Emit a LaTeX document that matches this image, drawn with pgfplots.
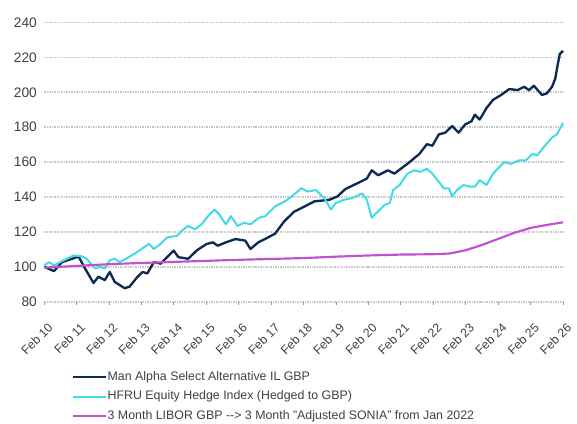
\documentclass[border=0pt]{standalone}
\usepackage{pgfplots}
\pgfplotsset{compat=1.18}
\usepackage{fontspec}
\setmainfont{Liberation Sans}
\definecolor{navy}{RGB}{12,42,82}
\definecolor{cyanl}{RGB}{62,218,230}
\definecolor{magl}{RGB}{192,82,208}
\definecolor{txt}{RGB}{64,64,64}
\definecolor{gridc}{RGB}{200,200,200}
\begin{document}
\begin{tikzpicture}
\begin{axis}[name=ax,
  scale only axis, width=528pt, height=284pt,
  xmin=0, xmax=16, ymin=80, ymax=240, clip=false,
  xtick={0,...,16},
  xticklabels={Feb 10,Feb 11,Feb 12,Feb 13,Feb 14,Feb 15,Feb 16,Feb 17,Feb 18,Feb 19,Feb 20,Feb 21,Feb 22,Feb 23,Feb 24,Feb 25,Feb 26},
  ytick={80,100,...,240},
  axis line style={draw=none},
  xtick pos=bottom, ytick pos=left,
  tick style={draw=none},
  tick align=outside, major tick length=3pt,
  /pgf/number format/assume math mode=true,
  y tick label style={font=\fontsize{14}{16}\selectfont, text=txt, xshift=-1pt},
  x tick label style={font=\fontsize{12.5}{14}\selectfont, text=txt, xshift=3pt, yshift=-13pt, rotate=45, anchor=north east},
  legend style={at={(0.053,-0.245)}, anchor=north west, draw=none, fill=none,
    font=\fontsize{12.6}{14}\selectfont, text=txt, row sep=6pt, inner sep=0pt,
    nodes={inner sep=1pt, text height=9pt, text depth=3pt}},
  legend cell align=left,
  legend image code/.code={\draw[#1] (0pt,0pt) -- (33pt,0pt);},
  unbounded coords=jump,
]
% horizontal grid lines
\addplot[forget plot, draw=gridc, line width=1.8pt, dash pattern=on 1.5pt off 1pt] coordinates {
(0,80)(16,80) (nan,nan) (0,100)(16,100) (nan,nan) (0,120)(16,120) (nan,nan) (0,140)(16,140) (nan,nan)
(0,160)(16,160) (nan,nan) (0,180)(16,180) (nan,nan) (0,200)(16,200) (nan,nan) (0,220)(16,220) (nan,nan) (0,240)(16,240)
};
% x tick marks
\addplot[forget plot, draw=gray!80, line width=1pt] coordinates {
(0,80)(0,78.2)(nan,nan)(1,80)(1,78.2)(nan,nan)(2,80)(2,78.2)(nan,nan)(3,80)(3,78.2)(nan,nan)(4,80)(4,78.2)(nan,nan)(5,80)(5,78.2)(nan,nan)(6,80)(6,78.2)(nan,nan)(7,80)(7,78.2)(nan,nan)(8,80)(8,78.2)(nan,nan)(9,80)(9,78.2)(nan,nan)(10,80)(10,78.2)(nan,nan)(11,80)(11,78.2)(nan,nan)(12,80)(12,78.2)(nan,nan)(13,80)(13,78.2)(nan,nan)(14,80)(14,78.2)(nan,nan)(15,80)(15,78.2)(nan,nan)(16,80)(16,78.2)
};
\addplot[navy, line width=2.4pt, line join=round] coordinates {
(0,100)(0.3,97.5)(0.55,102.7)(0.86,104.6)(1.06,105.9)(1.26,99)(1.52,90.7)(1.67,94.3)(1.87,92.4)(2.02,97)(2.17,91.4)(2.48,87.7)(2.63,88.6)(2.88,94.3)(3.03,97)(3.18,96.2)(3.38,102.7)(3.59,101.8)(3.79,105.5)(3.99,109.3)(4.14,105.5)(4.44,104.6)(4.7,109.3)(5.0,113)(5.2,114)(5.35,112.1)(5.6,114)(5.9,115.9)(6.2,115)(6.36,110.2)(6.6,114)(6.9,116.8)(7.12,119)(7.4,126)(7.7,131.5)(8.03,134.6)(8.33,137.5)(8.79,138.4)(9.04,140.3)(9.29,144.6)(9.65,147.8)(9.95,150.6)(10.1,155.3)(10.3,152.5)(10.6,155.3)(10.8,153.4)(10.96,155.7)(11.2,159)(11.57,164.7)(11.8,170.3)(11.97,169.4)(12.17,175.9)(12.37,176.9)(12.58,180.7)(12.78,176.9)(12.98,181.6)(13.18,183.5)(13.28,187.2)(13.43,184.4)(13.64,191)(13.84,195.7)(14.09,198.5)(14.34,201.9)(14.6,201.3)(14.8,203.2)(14.95,201.3)(15.1,203.8)(15.35,198.5)(15.5,199.4)(15.66,203.2)(15.76,207.9)(15.83,215.4)(15.9,222)(16.0,223.8)
};
\addlegendentry{Man Alpha Select Alternative IL GBP}
\addplot[cyanl, line width=2pt, line join=round] coordinates {
(0,100.8)(0.15,102.7)(0.3,100.8)(0.6,103.7)(0.91,106.5)(1.16,106)(1.31,104.6)(1.57,99)(1.72,99.9)(1.87,99)(2.02,103.7)(2.17,104.6)(2.32,102.7)(2.52,104.6)(2.78,107.4)(3.08,111.2)(3.23,113.1)(3.38,110.2)(3.59,113.1)(3.79,116.8)(4.09,117.7)(4.24,120.6)(4.44,123.4)(4.65,121.5)(4.85,124.3)(5.05,129)(5.25,132.8)(5.4,130)(5.6,124.3)(5.76,129)(5.96,123.4)(6.16,125.2)(6.36,124.3)(6.62,128.1)(6.82,129)(7.12,134.6)(7.42,137.5)(7.63,140.3)(7.93,145)(8.13,143.1)(8.38,144)(8.64,139.3)(8.84,132.8)(8.99,136.5)(9.24,138.4)(9.49,139.3)(9.8,142.1)(9.95,138.4)(10.1,128.1)(10.25,130.9)(10.5,135.6)(10.66,136.5)(10.76,144)(10.96,146.9)(11.2,153.4)(11.41,155.3)(11.6,154.4)(11.8,156.2)(11.97,153.4)(12.17,148.7)(12.32,145)(12.48,145)(12.58,140.3)(12.73,144)(12.93,146.9)(13.13,145.9)(13.28,145.9)(13.43,149.7)(13.64,146.9)(13.84,153.4)(14.19,160)(14.39,159)(14.64,161)(14.85,161)(15.05,164.7)(15.2,163.8)(15.4,168.5)(15.66,174.1)(15.81,175.9)(16.0,182.5)
};
\addlegendentry{HFRU Equity Hedge Index (Hedged to GBP)}
\addplot[magl, line width=2.2pt, line join=round] coordinates {
(0,99.5)(1,100.5)(2,101.5)(3,102.2)(4,102.8)(5,103.4)(6,104)(7,104.5)(8,105)(9,105.8)(10,106.5)(11,107)(12,107.2)(12.5,107.6)(13,109.5)(13.5,112.5)(14,116)(14.5,119.5)(15,122.3)(15.5,124)(16,125.5)
};
\addlegendentry{3 Month LIBOR GBP \mbox{-}\mbox{-}> 3 Month "Adjusted SONIA" from Jan 2022}
\end{axis}
\path ([xshift=-45pt,yshift=-116pt]ax.south west) rectangle ([xshift=4pt,yshift=23pt]ax.north east);
\end{tikzpicture}
\end{document}
